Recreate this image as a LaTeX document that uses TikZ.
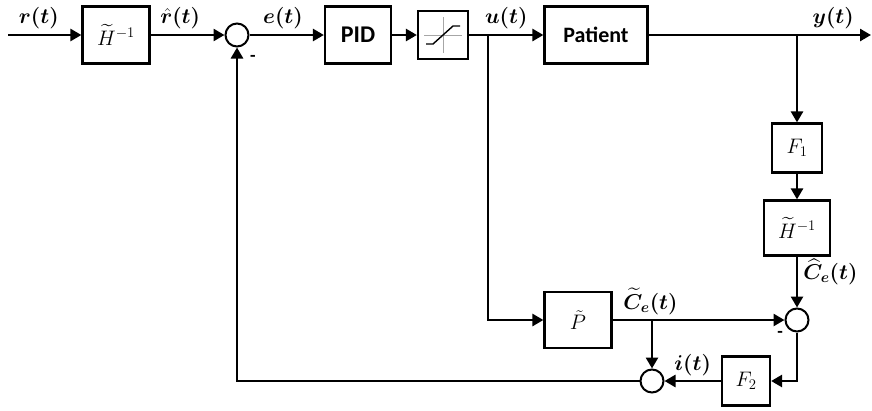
\RequirePackage{fix-cm}
\documentclass[tikz,border=0pt]{standalone}
\usepackage{amsmath, amssymb}
\usepackage{bm}
\usepackage{fontspec}
\newfontfamily\blkfont{Carlito}
\usetikzlibrary{arrows.meta, calc, positioning}

\begin{document}
\begin{tikzpicture}[x=1pt, y=-1pt,
  blk/.style={draw, line width=2.2pt, inner sep=0pt, font=\fontsize{21}{25}\selectfont},
  sum/.style={draw, circle, line width=2pt, minimum size=23pt, inner sep=0pt},
  sig/.style={line width=2.6pt, -{Triangle[length=11pt, width=12pt]}},
  lbl/.style={font=\fontsize{21.5}{25}\selectfont, inner sep=2pt},
  minus/.style={font=\blkfont\bfseries\fontsize{18}{21}\selectfont, inner sep=0pt}]
\useasboundingbox (0,0) rectangle (872,410);

% forward path
\coordinate (in) at (8,35);
\node (H) [blk, minimum width=67pt, minimum height=57pt] at (116,35) {$\widetilde{H}^{-1}$};
\node (s1) [sum] at (237,35) {};
\node (PID) [blk, minimum width=66pt, minimum height=57pt] at (358,35) {\blkfont\bfseries\fontsize{24}{28}\selectfont PID};
\node (sat) [blk, minimum width=50pt, minimum height=48pt] at (443,35) {};
\node (pat) [blk, minimum width=103pt, minimum height=57pt] at (596,35) {\blkfont\bfseries\fontsize{22}{26}\selectfont Patient};
\coordinate (uB) at (488,35);
\coordinate (yB) at (797,35);
\coordinate (out) at (871,35);

% saturation symbol
\draw[gray!70, line width=0.9pt] ($(sat)+(-19,0)$) -- ($(sat)+(19,0)$);
\draw[gray!70, line width=0.9pt] ($(sat)+(0,-18)$) -- ($(sat)+(0,18)$);
\draw[line width=1.4pt] ($(sat)+(-17,9)$) -- ($(sat)+(-10,9)$) -- ($(sat)+(10,-9)$) -- ($(sat)+(17,-9)$);

% estimator
\node (F1) [blk, minimum width=50pt, minimum height=49pt] at (797,148) {$F_1$};
\node (H2) [blk, minimum width=66pt, minimum height=55pt] at (797,228) {$\widetilde{H}^{-1}$};
\node (s2) [sum] at (797,320) {};
\node (P) [blk, minimum width=67pt, minimum height=56pt] at (578,320) {$\tilde{P}$};
\coordinate (cB) at (652,320);
\node (s3) [sum] at (652,381) {};
\node (F2) [blk, minimum width=48pt, minimum height=49pt] at (746,381) {$F_2$};

\draw[sig] (in) -- (H) node[lbl, pos=0.42, above=3pt] {$\bm{r(t)}$};
\draw[sig] (H) -- (s1) node[lbl, pos=0.4, above=3pt] {$\bm{\hat{r}(t)}$};
\draw[sig] (s1) -- (PID) node[lbl, pos=0.45, above=3pt] {$\bm{e(t)}$};
\draw[sig] (PID) -- (sat);
\draw[sig] (sat) -- (pat) node[lbl, midway, above=3pt] {$\bm{u(t)}$};
\draw[sig] (pat) -- (out) node[lbl, pos=0.83, above=3pt] {$\bm{y(t)}$};

\draw[sig] (yB) -- (F1);
\draw[sig] (F1) -- (H2);
\draw[sig] (H2) -- (s2) node[lbl, pos=0.3, right=3pt] {$\widehat{\bm{C}}_{\bm{e}}\bm{(t)}$};
\draw[sig] (uB) |- (P);
\draw[sig] (P) -- (s2) node[lbl, pos=0.22, above=2pt] {$\widetilde{\bm{C}}_{\bm{e}}\bm{(t)}$};
\draw[sig] (cB) -- (s3);
\draw[sig] (s2) |- (F2);
\draw[sig] (F2) -- (s3) node[lbl, midway, above=2pt] {$\bm{i(t)}$};
\draw[sig] (s3) -| (s1);

\node[minus] at (253,58) {-};
\node[minus] at (780,334) {-};
\end{tikzpicture}
\end{document}
